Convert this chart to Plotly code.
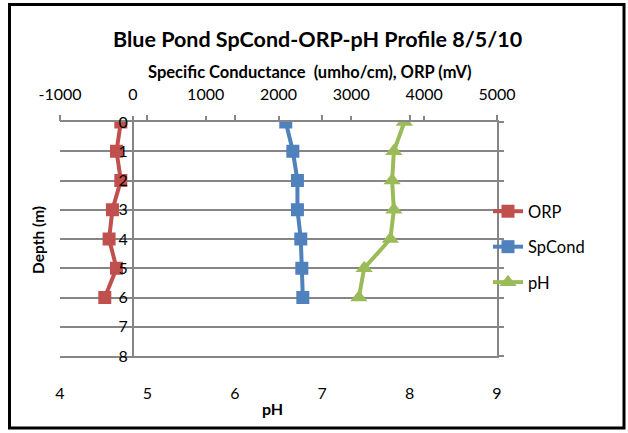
import plotly.graph_objects as go

depth = [0, 1, 2, 3, 4, 5, 6]
orp = [-165, -224, -165, -280, -326, -224, -385]
spcond = [2100, 2197, 2260, 2260, 2306, 2320, 2334]
ph = [7.94, 7.82, 7.80, 7.82, 7.78, 7.48, 7.42]

top_ticks = [-1000, 0, 1000, 2000, 3000, 4000, 5000]
top_tick_labels = ["-1000", "0", "1000", "2000", "3000", "4000", "5000"]
ph_ticks = [4, 5, 6, 7, 8, 9]
depth_ticks = [0, 1, 2, 3, 4, 5, 6, 7, 8]

FONT = "Lato"
GRID = "#868686"
RED = "#C0504D"
BLUE = "#4F81BD"
GREEN = "#9BBB59"

W, H = 628, 433
L, R, T, B = 60, 497, 122, 356

fig = go.Figure()
fig.add_trace(go.Scatter(x=orp, y=depth, name="ORP", xaxis="x2", yaxis="y",
                         mode="lines+markers", legendgroup="a",
                         line=dict(color=RED, width=4),
                         marker=dict(symbol="square", size=13, color=RED)))
fig.add_trace(go.Scatter(x=spcond, y=depth, name="SpCond", xaxis="x2", yaxis="y",
                         mode="lines+markers", legendgroup="b",
                         line=dict(color=BLUE, width=4),
                         marker=dict(symbol="square", size=13, color=BLUE)))
fig.add_trace(go.Scatter(x=ph, y=depth, name="pH", xaxis="x", yaxis="y",
                         mode="lines+markers", legendgroup="c",
                         line=dict(color=GREEN, width=4),
                         marker=dict(symbol="triangle-up", size=15, color=GREEN)))
# dummy trace to activate xaxis3 / yaxis2
fig.add_trace(go.Scatter(x=[None], y=[None], xaxis="x3", yaxis="y2", showlegend=False,
                         hoverinfo="skip"))


def px_x(p):
    return (p - L) / (R - L)


def px_y(p):
    return (B - p) / (B - T)


fig.update_layout(
    width=W, height=H,
    margin=dict(l=L, r=W - R, t=T, b=H - B, autoexpand=False),
    paper_bgcolor="white", plot_bgcolor="white",
    font=dict(family=FONT, size=16, color="black"),
    showlegend=True,
    legend=dict(x=px_x(488), y=px_y(194), xanchor="left", yanchor="top",
                font=dict(size=16.5), tracegroupgap=11, bgcolor="rgba(0,0,0,0)"),
    xaxis=dict(range=[4, 9], tickvals=ph_ticks, side="bottom", showline=True,
               linecolor=GRID, linewidth=2,
               ticks="", showgrid=False, zeroline=False, ticklabelstandoff=22),
    xaxis2=dict(range=[-1000, 5000], tickvals=top_ticks, ticktext=top_tick_labels,
                side="top", overlaying="x",
                anchor="y", showline=False, ticks="outside", ticklen=5, tickwidth=1.5,
                tickcolor=GRID, showgrid=False, zeroline=True, zerolinecolor=GRID,
                zerolinewidth=2, ticklabelstandoff=10),
    xaxis3=dict(range=[4, 9], tickvals=ph_ticks, side="top", overlaying="x", anchor="y",
                showline=True, linecolor=GRID, linewidth=2,
                ticks="outside", ticklen=5, tickwidth=1.5, tickcolor=GRID,
                showticklabels=False, showgrid=False, zeroline=False),
    yaxis=dict(range=[8, 0], tickvals=depth_ticks, showgrid=True, gridcolor=GRID,
               gridwidth=2, zeroline=False, showline=False, ticks="",
               anchor="free", position=(0 - (-1000)) / 6000, ticklabelstandoff=5),
    yaxis2=dict(range=[8, 0], tickvals=depth_ticks, overlaying="y", side="right",
                anchor="x", showline=True, linecolor=GRID, linewidth=2, ticks="outside",
                ticklen=5, tickwidth=2, tickcolor=GRID, showticklabels=False,
                showgrid=False, zeroline=False),
)

ann = [
    dict(text="<b>Blue Pond SpCond-ORP-pH Profile 8/5/10</b>", x=px_x(317), y=px_y(39),
         font=dict(size=21.5)),
    dict(text="<b>Specific Conductance  (umho/cm), ORP (mV)</b>", x=px_x(310), y=px_y(72),
         font=dict(size=16.5)),
    dict(text="<b>pH</b>", x=px_x(272), y=px_y(408), font=dict(size=16)),
    dict(text="<b>Depth (m)</b>", x=px_x(38), y=px_y(240), font=dict(size=15.5), textangle=-90),
]
for a in ann:
    a.update(xref="paper", yref="paper", showarrow=False, xanchor="center", yanchor="middle")
fig.update_layout(annotations=ann)

fig.add_shape(type="rect", xref="paper", yref="paper",
              x0=px_x(9.5), x1=px_x(624), y0=px_y(4.5), y1=px_y(428),
              line=dict(color="black", width=3), layer="above")

fig.write_html("out.html", config={"displayModeBar": False},
               post_script="document.body.style.margin='0';document.body.style.overflow='hidden';")
